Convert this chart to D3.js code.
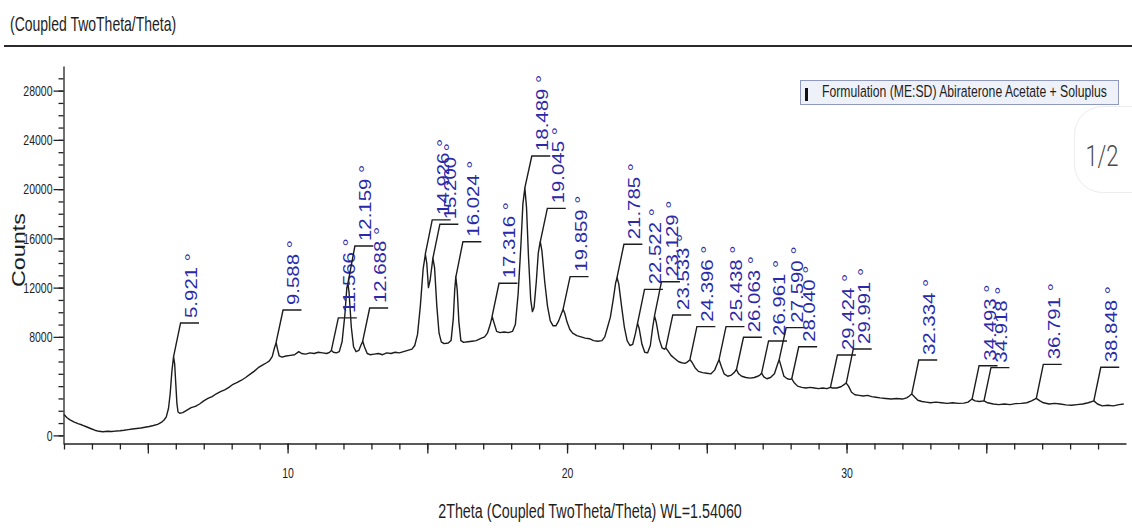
<!DOCTYPE html>
<html>
<head>
<meta charset="utf-8">
<script src="https://cdnjs.cloudflare.com/ajax/libs/d3/7.8.5/d3.min.js"></script>
<style>
	body { margin:0; background:#fff; }
	svg text { font-family: "Liberation Sans", Arial, sans-serif; }
</style>
</head>
<body>
<svg id="chart" width="1132" height="531"></svg>
<script>
	// scan trace (2theta in degrees, counts)
	var twoTheta = [
		2.00,2.10,2.20,2.35,2.50,2.65,2.80,2.95,3.10,3.25,3.40,3.55,3.70,3.85,4.00,4.15,4.30,4.45,4.60,4.75,
		4.90,5.05,5.20,5.35,5.48,5.58,5.66,5.74,5.80,5.86,5.92,5.96,6.00,6.04,6.08,6.14,6.25,6.40,6.55,6.70,
		6.85,7.00,7.15,7.30,7.45,7.60,7.75,7.90,8.05,8.20,8.35,8.50,8.65,8.80,8.95,9.10,9.25,9.35,9.45,9.53,
		9.59,9.64,9.70,9.80,9.95,10.10,10.25,10.40,10.50,10.65,10.80,10.95,11.10,11.25,11.40,11.50,11.57,11.64,11.75,11.85,
		11.95,12.05,12.12,12.16,12.20,12.28,12.36,12.45,12.55,12.62,12.69,12.75,12.85,12.95,13.10,13.25,13.40,13.55,13.70,13.85,
		14.00,14.15,14.30,14.45,14.55,14.65,14.75,14.85,14.93,14.98,15.04,15.10,15.20,15.26,15.34,15.42,15.50,15.60,15.75,15.85,
		15.93,15.98,16.02,16.07,16.13,16.20,16.30,16.45,16.60,16.75,16.90,17.05,17.15,17.25,17.32,17.38,17.48,17.60,17.75,17.90,
		18.05,18.15,18.25,18.35,18.42,18.49,18.55,18.62,18.70,18.76,18.82,18.90,18.97,19.04,19.10,19.20,19.30,19.40,19.50,19.60,
		19.70,19.80,19.86,19.92,20.00,20.10,20.20,20.35,20.50,20.65,20.80,20.95,21.10,21.25,21.35,21.45,21.55,21.65,21.74,21.79,
		21.85,21.95,22.05,22.15,22.25,22.35,22.45,22.52,22.58,22.68,22.78,22.88,22.98,23.06,23.13,23.19,23.30,23.40,23.48,23.53,
		23.60,23.72,23.85,23.98,24.10,24.22,24.30,24.40,24.48,24.58,24.70,24.85,25.00,25.15,25.28,25.37,25.44,25.52,25.62,25.75,
		25.88,25.98,26.06,26.14,26.25,26.40,26.55,26.70,26.82,26.90,26.96,27.04,27.15,27.28,27.42,27.52,27.59,27.66,27.76,27.88,
		27.98,28.04,28.12,28.25,28.40,28.55,28.70,28.85,29.00,29.15,29.30,29.42,29.50,29.65,29.80,29.90,29.99,30.07,30.18,30.30,
		30.45,30.60,30.75,30.90,31.05,31.20,31.40,31.60,31.80,32.00,32.15,32.25,32.33,32.42,32.55,32.70,32.85,33.00,33.20,33.40,
		33.60,33.80,34.00,34.20,34.35,34.49,34.60,34.75,34.92,35.05,35.25,35.45,35.65,35.85,36.05,36.25,36.45,36.62,36.79,36.92,
		37.05,37.25,37.45,37.65,37.85,38.05,38.25,38.45,38.65,38.85,38.98,39.15,39.35,39.55,39.75,39.92
	];
	var counts = [
		1700,1450,1280,1100,950,840,700,560,420,330,300,330,310,350,380,420,470,520,560,600,
		660,720,800,900,1050,1250,1500,2200,3400,5200,6390,5800,4200,2600,1900,1800,1850,2050,2250,2350,
		2550,2800,3000,3150,3380,3560,3700,3900,4150,4300,4480,4700,4950,5200,5500,5700,5900,6050,6400,7100,
		7530,7000,6450,6350,6450,6500,6550,6800,6650,6600,6700,6650,6750,6700,6650,6750,6900,6750,6700,6800,
		7600,9800,12000,12350,11600,8800,7200,6800,6900,7300,7650,7200,6650,6550,6600,6650,6550,6700,6650,6750,
		6700,6800,6900,7000,7300,8200,10500,13500,14700,14000,12000,12600,14400,13600,10500,8300,7600,7450,7500,7700,
		9500,11800,12900,11800,9200,7700,7550,7600,7650,7700,7850,8000,8300,9000,9650,9200,8450,8350,8400,8350,
		8450,9000,11500,15500,18800,20100,18500,14500,11000,10050,10400,12500,14800,15750,15000,12500,10500,9300,8900,8900,
		9300,9900,10250,9900,9200,8600,8300,8100,8000,7900,7850,7700,7650,7700,8000,8800,9600,11000,12400,12800,
		12300,10500,8800,7700,7300,7400,8300,9100,8700,7400,6750,6700,7300,8700,9700,9200,7800,7100,7000,7100,
		6900,6500,6250,6000,5900,5850,5950,6150,5900,5500,5200,5100,5050,5000,5300,5800,6150,5600,5000,4800,
		4900,5100,5350,5000,4800,4700,4650,4700,4800,4900,5050,4750,4600,4700,5000,5700,6150,5600,4800,4600,
		4550,4600,4300,4000,3900,3850,3900,3850,3800,3850,3800,3900,3850,3850,3950,4100,4250,4000,3500,3300,
		3250,3200,3250,3150,3100,3050,3000,2950,3000,2950,3050,3200,3370,3150,2850,2750,2700,2650,2700,2650,
		2600,2650,2600,2620,2700,2950,2800,2750,2800,2650,2550,2500,2550,2500,2580,2600,2650,2800,3000,2800,
		2650,2550,2600,2550,2480,2450,2500,2550,2650,2800,2550,2400,2450,2400,2500,2550
	];

	// labelled peaks: position, counts at peak top, counts level of the label bar
	var peakPos = [5.921,9.588,11.566,12.159,12.688,14.926,15.200,16.024,17.316,18.489,19.045,19.859,21.785,22.522,
		23.129,23.533,24.396,25.438,26.063,26.961,27.590,28.040,29.424,29.991,32.334,34.493,34.918,36.791,38.848];
	var peakCounts = [6390,7530,6900,12350,7650,14700,14400,12900,9650,20100,15750,10250,12800,9100,
		9700,7100,6150,6150,5350,5050,6150,4600,3900,4250,3370,2950,2800,3000,2800];
	var labelLevel = [9130,10180,9540,15380,10340,17500,17150,15730,12350,22690,18440,12890,15520,11860,
		12480,9780,8830,8830,7970,7670,8750,7200,6530,7020,6120,5660,5500,5770,5530];

	var yTickLabels = [0, 8000, 12000, 16000, 20000, 24000, 28000];
	var xMajorTicks = [5, 10, 15, 20, 25, 30, 35];
	var xTickLabels = [10, 20, 30];
	var legendText = "Formulation (ME:SD) Abiraterone Acetate + Soluplus";

	var svg = d3.select("#chart");
	var x = d3.scaleLinear().domain([2, 40]).range([64, 1126]);
	var y = d3.scaleLinear().domain([-700, 30000]).range([444, 66]);
	var TALL = 1.38; // the page is stretched vertically

	// title + rule
	svg.append("text")
		.attr("transform", "translate(10,31) scale(1," + TALL + ")")
		.style("font-size", "14px").style("fill", "#1e1e1e")
		.text("(Coupled TwoTheta/Theta)");
	svg.append("line")
		.attr("x1", 4).attr("x2", 1132).attr("y1", 46).attr("y2", 46)
		.attr("stroke", "#2a2a2a").attr("stroke-width", 2);

	///////////////	 AXES 	//////////////////
	var gy = svg.append("g").attr("transform", "translate(63.5,0)");
	gy.call(d3.axisLeft(y).tickValues(d3.range(0, 30000, 1000)).tickSize(5).tickSizeOuter(0).tickFormat(""));
	var gyMaj = gy.append("g")
		.call(d3.axisLeft(y).tickValues(yTickLabels).tickSize(10).tickSizeOuter(0).tickPadding(1).tickFormat(d3.format("d")));
	gyMaj.select(".domain").remove();
	gyMaj.selectAll("text")
		.attr("transform", "scale(1," + TALL + ")")
		.style("font-size", "10.5px").style("font-family", "Liberation Sans, Arial, sans-serif").style("fill", "#1e1e1e");

	var gx = svg.append("g").attr("transform", "translate(0,443.5)");
	gx.call(d3.axisBottom(x).tickValues(d3.range(2, 40, 1)).tickSize(6).tickSizeOuter(0).tickFormat(""));
	var gxMaj = gx.append("g")
		.call(d3.axisBottom(x).tickValues(xMajorTicks).tickSize(10).tickSizeOuter(0).tickFormat(""));
	gxMaj.select(".domain").remove();
	var gxLab = gx.append("g")
		.call(d3.axisBottom(x).tickValues(xTickLabels).tickSize(0).tickSizeOuter(0).tickFormat(d3.format("d")));
	gxLab.select(".domain").remove();
	gxLab.selectAll("text")
		.attr("y", 0).attr("dy", 0)
		.attr("transform", "translate(0,34) scale(1," + TALL + ")")
		.style("font-size", "10.5px").style("font-family", "Liberation Sans, Arial, sans-serif").style("fill", "#1e1e1e");

	svg.selectAll(".domain, .tick line").attr("stroke", "#222").attr("stroke-width", 1.3);

	svg.append("text")
		.attr("transform", "translate(25,250) scale(1,1.3) rotate(-90)")
		.attr("text-anchor", "middle")
		.style("font-size", "18px").style("fill", "#1e1e1e")
		.text("Counts");

	svg.append("text")
		.attr("transform", "translate(590,518) scale(1," + TALL + ")")
		.attr("text-anchor", "middle")
		.style("font-size", "14.3px").style("fill", "#1e1e1e")
		.text("2Theta (Coupled TwoTheta/Theta) WL=1.54060");

	///////////////	 SCAN 	//////////////////
	var line = d3.line()
		.x(function(d, i) { return x(twoTheta[i]); })
		.y(function(d) { return y(d); });
	svg.append("path")
		.datum(counts)
		.attr("d", line)
		.attr("fill", "none")
		.attr("stroke", "#1c1c1c")
		.attr("stroke-width", 1.4)
		.attr("stroke-linejoin", "round");

	///////////////	 PEAK LABELS 	//////////////////
	var OFF = 0.25, BAR = 0.66;
	peakPos.forEach(function(p, i) {
		var x0 = x(p), y0 = y(peakCounts[i]);
		var x1 = x(p + OFF), y1 = y(labelLevel[i]), x2 = x(p + OFF + BAR);
		svg.append("path")
			.attr("d", "M" + x0 + "," + y0 + "L" + x1 + "," + y1 + "L" + x2 + "," + y1)
			.attr("fill", "none")
			.attr("stroke", "#1c1c1c")
			.attr("stroke-width", 1.4);
		svg.append("text")
			.attr("transform", "translate(" + (x2 - 2) + "," + (y1 - 5) + ") scale(1,1.2) rotate(-90)")
			.style("font-size", "17px")
			.style("fill", "#2a2aa8")
			.text(p.toFixed(3) + " \u00b0");
	});

	///////////////	 LEGEND 	//////////////////
	svg.append("rect")
		.attr("x", 800.5).attr("y", 80.5).attr("width", 318).attr("height", 24)
		.attr("fill", "#eef1f8").attr("stroke", "#8e99bd");
	svg.append("rect")
		.attr("x", 805).attr("y", 88).attr("width", 3).attr("height", 13)
		.attr("fill", "#111");
	svg.append("text")
		.attr("transform", "translate(822,97) scale(1," + TALL + ")")
		.style("font-size", "12.2px").style("fill", "#1e1e1e")
		.text(legendText);

	// page badge from the viewer
	svg.append("rect")
		.attr("x", 1074.5).attr("y", 106.5).attr("width", 90).attr("height", 86).attr("rx", 28)
		.attr("fill", "#fff").attr("stroke", "#ececec");
	svg.append("text")
		.attr("transform", "translate(1102,166) scale(1,1.3)")
		.attr("text-anchor", "middle")
		.style("font-family", "Roboto, sans-serif").style("font-weight", 300)
		.style("font-size", "22px").style("fill", "#4a4a4a")
		.text("1/2");
</script>
</body>
</html>
